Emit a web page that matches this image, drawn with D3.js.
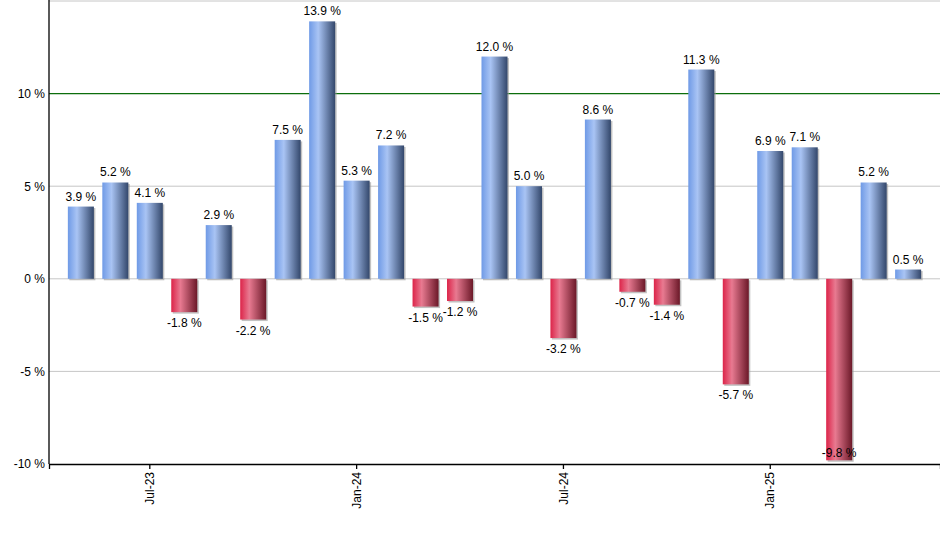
<!DOCTYPE html>
<html>
<head>
<meta charset="utf-8">
<script src="https://cdn.jsdelivr.net/npm/d3@7"></script>
<style>
  body { margin: 0; background: #fff; }
  svg { display: block; font-family: 'Liberation Sans', Arial, sans-serif; }
  .axis text { font-size: 12px; fill: #000; font-family: 'Liberation Sans', Arial, sans-serif; }
  .axis path, .axis line { stroke: #000; stroke-width: 1.3; }
  .bar-label { font-size: 12px; fill: #000; text-anchor: middle; }
</style>
</head>
<body>
<div id="svg-container"></div>
<script>
const months = [
  'May-23', 'Jun-23', 'Jul-23', 'Aug-23', 'Sep-23', 'Oct-23', 'Nov-23', 'Dec-23',
  'Jan-24', 'Feb-24', 'Mar-24', 'Apr-24', 'May-24', 'Jun-24', 'Jul-24', 'Aug-24',
  'Sep-24', 'Oct-24', 'Nov-24', 'Dec-24', 'Jan-25', 'Feb-25', 'Mar-25', 'Apr-25', 'May-25'
];
const returns = [
  3.9, 5.2, 4.1, -1.8, 2.9, -2.2, 7.5, 13.9,
  5.3, 7.2, -1.5, -1.2, 12.0, 5.0, -3.2, 8.6,
  -0.7, -1.4, 11.3, -5.7, 6.9, 7.1, -9.8, 5.2, 0.5
];
const xTickLabels = ['Jul-23', 'Jan-24', 'Jul-24', 'Jan-25'];
const yTicks = [-10, -5, 0, 5, 10];
const gridValues = [-5, 0, 5, 15];
const highlightLine = 10;

const width = 940;
const height = 550;
const margin = { top: 1, right: 0, bottom: 86, left: 49 };
const plotBottom = height - margin.bottom;

const svg = d3.select('#svg-container')
  .append('svg')
  .attr('width', width)
  .attr('height', height);

const dataset = months.map((m, i) => ({ month: m, value: returns[i] }));

const xScale = d3.scaleBand()
  .domain(months)
  .range([margin.left, width - margin.right])
  .paddingInner(0.245)
  .paddingOuter(0.547);

const yScale = d3.scaleLinear()
  .domain([-10, 15])
  .range([plotBottom, margin.top]);

// gradients
const defs = svg.append('defs');
const addGradient = (id, stops) => {
  const g = defs.append('linearGradient')
    .attr('id', id)
    .attr('x1', 0).attr('x2', 1).attr('y1', 0).attr('y2', 0);
  stops.forEach(s => g.append('stop').attr('offset', s[0]).attr('stop-color', s[1]));
};
addGradient('blueGrad', [[0, '#6f9ae6'], [0.35, '#a9c4f4'], [1, '#33476b']]);
addGradient('redGrad', [[0, '#dc2449'], [0.35, '#e87a91'], [1, '#6b1828']]);

// grid lines
svg.append('g')
  .selectAll('line')
  .data(gridValues)
  .enter()
  .append('line')
  .attr('x1', margin.left)
  .attr('x2', width - margin.right)
  .attr('y1', d => yScale(d))
  .attr('y2', d => yScale(d))
  .attr('stroke', '#c6c6c6')
  .attr('stroke-width', 1);

svg.append('line')
  .attr('x1', margin.left)
  .attr('x2', width - margin.right)
  .attr('y1', yScale(highlightLine))
  .attr('y2', yScale(highlightLine))
  .attr('stroke', '#0c6e0c')
  .attr('stroke-width', 1.2);

// bar shadows
svg.append('g')
  .selectAll('rect')
  .data(dataset)
  .enter()
  .append('rect')
  .attr('x', d => xScale(d.month) + 1.5)
  .attr('y', d => Math.min(yScale(d.value), yScale(0)) + 1.5)
  .attr('width', xScale.bandwidth())
  .attr('height', d => Math.abs(yScale(d.value) - yScale(0)))
  .attr('fill', '#9a9a9a')
  .attr('opacity', 0.6);

// bars
svg.append('g')
  .selectAll('rect')
  .data(dataset)
  .enter()
  .append('rect')
  .attr('x', d => xScale(d.month))
  .attr('y', d => Math.min(yScale(d.value), yScale(0)))
  .attr('width', xScale.bandwidth())
  .attr('height', d => Math.abs(yScale(d.value) - yScale(0)))
  .attr('fill', d => d.value >= 0 ? 'url(#blueGrad)' : 'url(#redGrad)');

// value labels
svg.append('g')
  .selectAll('text')
  .data(dataset)
  .enter()
  .append('text')
  .attr('class', 'bar-label')
  .attr('x', d => xScale(d.month) + xScale.bandwidth() / 2)
  .attr('y', d => d.value >= 0
    ? yScale(d.value) - 6
    : Math.min(yScale(d.value) + 15, plotBottom - 7))
  .text(d => `${d.value.toFixed(1)} %`);

// axes
svg.append('g')
  .attr('class', 'axis')
  .attr('transform', `translate(${margin.left}, 0)`)
  .call(d3.axisLeft(yScale).tickValues(yTicks).tickSize(0).tickPadding(4)
    .tickFormat(d => `${d} %`))
  .call(g => g.select('.domain').attr('d', `M0,0V${plotBottom}`));

const xAxis = svg.append('g')
  .attr('class', 'axis')
  .attr('transform', `translate(0, ${plotBottom})`)
  .call(d3.axisBottom(xScale).tickValues(xTickLabels).tickSizeOuter(0).tickSize(5));

xAxis.selectAll('text')
  .attr('transform', 'rotate(-90)')
  .attr('text-anchor', 'end')
  .attr('x', -8)
  .attr('y', 0)
  .attr('dy', '0.35em');
</script>
</body>
</html>
